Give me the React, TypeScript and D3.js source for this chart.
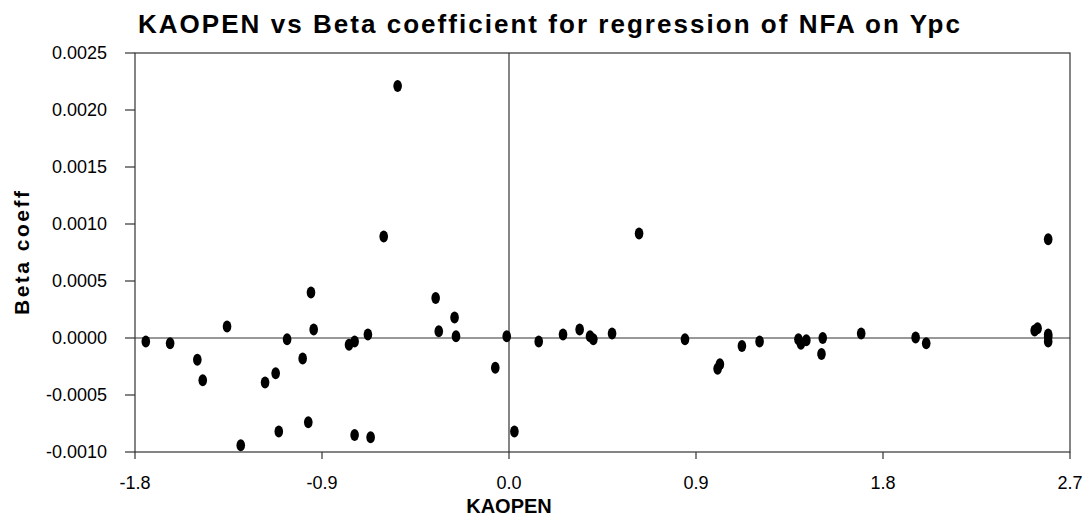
import React from 'react';
import { scaleLinear, range } from 'd3';

// KAOPEN value of each country and its beta coefficient (NFA on Ypc)
const kaopen = [
  -1.748, -1.631, -1.5, -1.474, -1.357, -1.291, -1.174, -1.123, -1.108, -1.068,
  -0.993, -0.966, -0.953, -0.94, -0.77, -0.743, -0.743, -0.679, -0.666, -0.603,
  -0.536, -0.353, -0.338, -0.262, -0.255, -0.066, -0.011, 0.026, 0.143, 0.26,
  0.34, 0.39, 0.406, 0.496, 0.626, 0.847, 1.004, 1.015, 1.121, 1.206,
  1.393, 1.405, 1.431, 1.51, 1.504, 1.695, 1.957, 2.008, 2.53, 2.544,
  2.595, 2.595, 2.595, 2.595,
];
const beta = [
  -0.00003, -0.000046, -0.00019, -0.00037, 0.0001, -0.00094, -0.00039, -0.00031, -0.00082, -0.00001,
  -0.00018, -0.00074, 0.0004, 0.000075, -0.00006, -0.00003, -0.00085, 0.00003, -0.00087, 0.00089,
  0.00221, 0.00035, 0.00006, 0.00018, 0.000016, -0.00026, 0.000016, -0.00082, -0.00003, 0.00003,
  0.000075, 0.000016, -0.00001, 0.00004, 0.000916, -0.00001, -0.00027, -0.00023, -0.00007, -0.00003,
  -0.00001, -0.00005, -0.00002, 0.0, -0.00014, 0.00004, 0.000004, -0.000046, 0.000066, 0.000086,
  0.00003, 0.00001, -0.00003, 0.000866,
];

const xTicks = [-1.8, -0.9, 0.0, 0.9, 1.8, 2.7];
const yTicks = [-0.001, -0.0005, 0, 0.0005, 0.001, 0.0015, 0.002, 0.0025];

const W = 1088;
const H = 520;
const FONT = '"Liberation Sans", Arial, sans-serif';
const LINE = '#333';

const App: React.FC = () => {
  const left = 135, right = 1070, top = 53, bottom = 452;

  const x = scaleLinear().domain([-1.8, 2.7]).range([left, right]);
  const y = scaleLinear().domain([-0.001, 0.0025]).range([bottom, top]);

  return (
    <svg
      width={W}
      height={H}
      style={{ position: 'absolute', left: 0, top: 0, background: '#fff' }}
      fontFamily={FONT}
    >
      <text
        x={138}
        y={33}
        fontSize={26}
        fontWeight="bold"
        textLength={822}
        lengthAdjust="spacing"
      >
        KAOPEN vs Beta coefficient for regression of NFA on Ypc
      </text>

      {/* plot frame */}
      <rect x={left} y={top} width={right - left} height={bottom - top} fill="none" stroke={LINE} strokeWidth={1.2} />

      {/* zero lines */}
      <line x1={left} x2={right} y1={y(0)} y2={y(0)} stroke={LINE} strokeWidth={1.2} />
      <line x1={x(0)} x2={x(0)} y1={top} y2={bottom} stroke={LINE} strokeWidth={1.2} />

      {/* y axis */}
      {yTicks.map(t => (
        <g key={t}>
          <line x1={left - 10} x2={left} y1={y(t)} y2={y(t)} stroke={LINE} strokeWidth={1.2} />
          <text x={107} y={y(t)} dy="0.36em" textAnchor="end" fontSize={18}>
            {t.toFixed(4)}
          </text>
        </g>
      ))}

      {/* x axis */}
      {xTicks.map(t => (
        <g key={t}>
          <line x1={x(t)} x2={x(t)} y1={bottom} y2={bottom + 7} stroke={LINE} strokeWidth={1.2} />
          <text x={x(t)} y={489} textAnchor="middle" fontSize={18}>
            {t.toFixed(1)}
          </text>
        </g>
      ))}

      <text x={509} y={513} textAnchor="middle" fontSize={20} fontWeight="bold">
        KAOPEN
      </text>
      <text
        transform="translate(29,253) rotate(-90)"
        textAnchor="middle"
        fontSize={21}
        fontWeight="bold"
        textLength={124}
        lengthAdjust="spacing"
      >
        Beta coeff
      </text>

      {range(kaopen.length).map(i => (
        <ellipse key={i} cx={x(kaopen[i])} cy={y(beta[i])} rx={4.3} ry={6} fill="#000" />
      ))}
    </svg>
  );
};

export default App;
